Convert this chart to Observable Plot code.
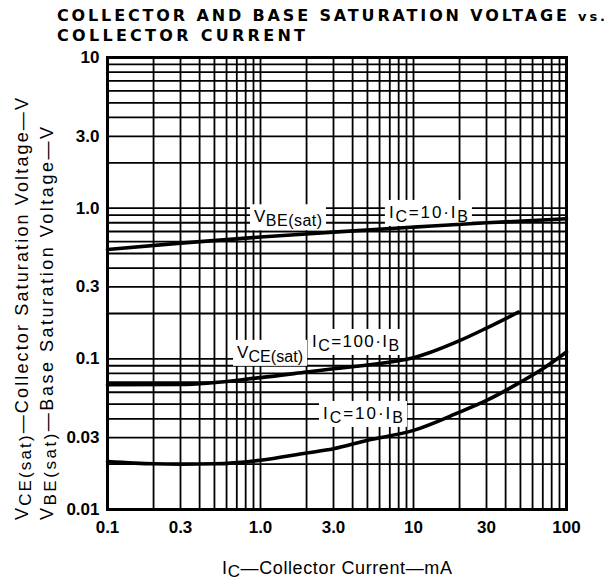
<!DOCTYPE html>
<html><head><meta charset="utf-8">
<script src="https://cdn.jsdelivr.net/npm/d3@7"></script>
<script src="https://cdn.jsdelivr.net/npm/@observablehq/plot@0.6"></script>
<style>
body{margin:0;background:#fff}
</style>
</head><body><div id="chart"></div>
<script>
// ---- data ----
const xTicks = [0.1, 0.3, 1, 3, 10, 30, 100];
const xTickLabels = ["0.1", "0.3", "1.0", "3.0", "10", "30", "100"];
const yTicks = [0.01, 0.03, 0.1, 0.3, 1, 3, 10];
const yTickLabels = ["0.01", "0.03", "0.1", "0.3", "1.0", "3.0", "10"];

const xDecades = [0.1, 1, 10];
const yDecades = [0.01, 0.1, 1];
const gridSteps = [1, 2, 3, 4, 5, 6, 7, 8, 9];

// VBE(sat), IC = 10·IB
const vbeIc = [0.1, 0.3, 1, 3, 10, 30, 100];
const vbeV  = [0.532, 0.586, 0.643, 0.693, 0.748, 0.80, 0.851];
// VCE(sat), IC = 100·IB
const vce100Ic = [0.1, 0.3, 1, 2, 3, 5, 10, 20, 30, 48.5];
const vce100V  = [0.0673, 0.0675, 0.075, 0.0817, 0.086, 0.0910, 0.1016, 0.132, 0.160, 0.204];
// VCE(sat), IC = 10·IB
const vce10Ic = [0.1, 0.2, 0.3, 0.5, 1, 2, 3, 5, 10, 20, 30, 50, 70, 100];
const vce10V  = [0.0208, 0.0201, 0.0200, 0.0201, 0.0212, 0.0237, 0.0253, 0.0288, 0.0335, 0.0443, 0.053, 0.070, 0.0859, 0.111];

// annotations (text start, baseline) in data coordinates
const labelX = [0.914, 6.96, 0.708, 2.19, 2.58];
const labelY = [0.80, 0.855, 0.1007, 0.119, 0.0396];
const labelParts = [
  [["V", 0], ["BE(sat)", 1]],
  [["I", 0], ["C", 1], ["=10·", 0], ["I", 0], ["B", 1]],
  [["V", 0], ["CE(sat)", 1]],
  [["I", 0], ["C", 1], ["=100·", 0], ["I", 0], ["B", 1]],
  [["I", 0], ["C", 1], ["=10·", 0], ["I", 0], ["B", 1]]
];
const labelWidths = [68, 79, 66, 87, 80];

// ---- build tables ----
const xGrid = xDecades.flatMap(d => gridSteps.map(k => d * k)).concat([100]);
const yGrid = yDecades.flatMap(d => gridSteps.map(k => d * k)).concat([10]);
const vbe = vbeIc.map((ic, i) => ({ic, v: vbeV[i]}));
const vce100 = vce100Ic.map((ic, i) => ({ic, v: vce100V[i]}));
const vce10 = vce10Ic.map((ic, i) => ({ic, v: vce10V[i]}));

const FONT = '"Liberation Sans", Arial, Helvetica, sans-serif';
const TITLE_FONT = '"DejaVu Sans", "Liberation Sans", sans-serif';
const lineOpts = {x: "ic", y: "v", stroke: "#000", strokeWidth: 3.6, curve: "monotone-x"};

const plot = Plot.plot({
  width: 613,
  height: 582,
  marginLeft: 107,
  marginRight: 47,
  marginTop: 57,
  marginBottom: 73,
  style: {background: "#fff", color: "#000", fontFamily: FONT},
  x: {type: "log", domain: [0.1, 100]},
  y: {type: "log", domain: [0.01, 10]},
  marks: [
    Plot.ruleX(xGrid, {stroke: "#000", strokeWidth: 1.8}),
    Plot.ruleY(yGrid, {stroke: "#000", strokeWidth: 1.8}),
    Plot.line(vbe, lineOpts),
    Plot.line(vce100, lineOpts),
    Plot.line(vce10, lineOpts),
    Plot.frame({stroke: "#000", strokeWidth: 3}),
    Plot.axisX({ticks: xTicks, tickFormat: d => xTickLabels[xTicks.indexOf(d)], tickSize: 0, tickPadding: 11, fontSize: 17, fontWeight: "bold", label: null}),
    Plot.axisY({ticks: yTicks, tickFormat: d => yTickLabels[yTicks.indexOf(d)], tickSize: 0, tickPadding: 8, fontSize: 17, fontWeight: "bold", label: null})
  ]
});

document.getElementById("chart").appendChild(plot);

const svg = d3.select(plot);
const sx = plot.scale("x"), sy = plot.scale("y");

// annotation labels with white boxes, below the curves
const firstLine = plot.querySelector('g[aria-label="line"]');
const annG = d3.select(plot.insertBefore(document.createElementNS("http://www.w3.org/2000/svg", "g"), firstLine))
  .attr("text-anchor", "start").attr("font-family", FONT);
labelParts.forEach((parts, i) => {
  const g = annG.append("g");
  const rect = g.append("rect").attr("fill", "#fff");
  const t = g.append("text")
    .attr("x", sx.apply(labelX[i]))
    .attr("y", sy.apply(labelY[i]))
    .attr("font-size", 17)
    .attr("fill", "#000")
    .attr("textLength", labelWidths[i])
    .attr("lengthAdjust", "spacing");
  let cur = 0;
  parts.forEach(([s, sub]) => {
    const dy = (sub ? 4 : 0) - cur;
    cur = sub ? 4 : 0;
    t.append("tspan").attr("dy", dy).attr("font-size", sub ? 16 : 17).text(s);
  });
  const b = t.node().getBBox();
  rect.attr("x", b.x - 4).attr("y", b.y - 3).attr("width", b.width + 8).attr("height", b.height + 4);
});

// title
const title = svg.append("g").attr("font-weight", "bold").attr("fill", "#000")
  .attr("text-anchor", "start").attr("font-family", TITLE_FONT);
const t1 = title.append("text").attr("x", 57).attr("y", 21).attr("font-size", 16)
  .attr("textLength", 548).attr("lengthAdjust", "spacing");
t1.append("tspan").text("COLLECTOR AND BASE SATURATION VOLTAGE ");
t1.append("tspan").attr("font-size", 13).text("vs.");
title.append("text").attr("x", 57).attr("y", 41).attr("font-size", 16)
  .attr("textLength", 248).attr("lengthAdjust", "spacing").text("COLLECTOR CURRENT");

// x-axis title
const xt = svg.append("text").attr("x", 222).attr("y", 574).attr("font-size", 18).attr("fill", "#000")
  .attr("text-anchor", "start").attr("font-family", FONT)
  .attr("textLength", 230).attr("lengthAdjust", "spacing");
xt.append("tspan").text("I");
xt.append("tspan").attr("dy", 3).attr("font-size", 17).text("C");
xt.append("tspan").attr("dy", -3).text("—Collector Current—mA");

// y-axis title (two lines, rotated)
function yTitle(x, sub, rest, len) {
  const t = svg.append("text").attr("transform", `translate(${x},520) rotate(-90)`)
    .attr("font-size", 18).attr("fill", "#000")
    .attr("text-anchor", "start").attr("font-family", FONT)
    .attr("textLength", len).attr("lengthAdjust", "spacing");
  t.append("tspan").text("V");
  t.append("tspan").attr("dy", 3).attr("font-size", 17).text(sub);
  t.append("tspan").attr("dy", -3).text(rest);
}
yTitle(28, "CE(sat)", "—Collector Saturation Voltage—V", 422);
yTitle(53, "BE(sat)", "—Base Saturation Voltage—V", 393);
</script>
</body></html>
